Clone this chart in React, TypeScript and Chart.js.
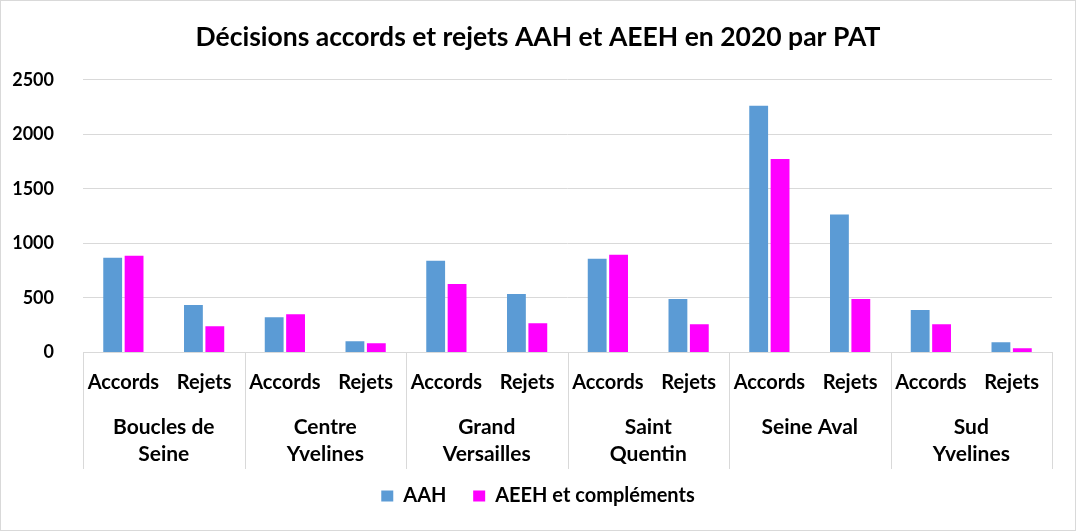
import React, { useEffect, useRef } from "react";
import { Chart, registerables } from "chart.js";

Chart.register(...registerables);

const titleText = "Décisions accords et rejets AAH et AEEH en 2020 par PAT";
const categories = [
  "Accords", "Rejets", "Accords", "Rejets", "Accords", "Rejets",
  "Accords", "Rejets", "Accords", "Rejets", "Accords", "Rejets",
];
const groups: (string | string[])[] = [
  ["Boucles de", "Seine"],
  ["Centre", "Yvelines"],
  ["Grand", "Versailles"],
  ["Saint", "Quentin"],
  ["Seine Aval"],
  ["Sud", "Yvelines"],
];
const aahValues = [868, 434, 323, 102, 840, 536, 859, 489, 2263, 1265, 388, 92];
const aeehValues = [886, 240, 351, 83, 628, 268, 896, 259, 1773, 489, 259, 37];
const seriesNames = ["AAH", "AEEH et compléments"];
const yMax = 2500;
const yStep = 500;

const FONT = "Lato";
const GRID = "#d9d9d9";

const separatorPlugin = {
  id: "groupSeparators",
  afterDraw(chart: any) {
    const x = chart.scales.x;
    const area = chart.chartArea;
    const ctx = chart.ctx;
    const n = categories.length;
    const positions: number[] = [];
    for (let i = 0; i <= n; i += 2) {
      if (i === 0) positions.push(area.left);
      else if (i === n) positions.push(area.right);
      else positions.push((x.getPixelForValue(i - 1) + x.getPixelForValue(i)) / 2);
    }
    const bottom = chart.scales.x2.bottom;
    ctx.save();
    ctx.strokeStyle = GRID;
    ctx.lineWidth = 1;
    for (const p of positions) {
      const px = Math.round(p) + 0.5;
      ctx.beginPath();
      ctx.moveTo(px, area.bottom);
      ctx.lineTo(px, bottom);
      ctx.stroke();
    }
    ctx.restore();
  },
};

export default function App() {
  const ref = useRef<HTMLCanvasElement | null>(null);

  useEffect(() => {
    document.body.style.margin = "0";
    if (!ref.current) return;
    const chart = new Chart(ref.current, {
      type: "bar",
      data: {
        labels: categories,
        datasets: [
          {
            label: seriesNames[0],
            data: aahValues,
            backgroundColor: "#5B9BD5",
            categoryPercentage: 0.53,
            barPercentage: 0.88,
          },
          {
            label: seriesNames[1],
            data: aeehValues,
            backgroundColor: "#FF00FF",
            categoryPercentage: 0.53,
            barPercentage: 0.88,
          },
        ],
      },
      options: {
        animation: false,
        responsive: false,
        maintainAspectRatio: false,
        layout: { padding: { left: 0, right: 0, top: 0, bottom: 14 } },
        plugins: {
          title: {
            display: true,
            text: titleText,
            color: "#000",
            font: { family: FONT, size: 26.5, weight: "bold", lineHeight: 1.2 },
            padding: { top: 21, bottom: 26 },
          },
          legend: {
            position: "bottom",
            labels: {
              color: "#000",
              font: { family: FONT, size: 20, weight: "bold" },
              boxWidth: 12,
              boxHeight: 11,
              padding: 17,
              generateLabels(chart: any) {
                const items = Chart.defaults.plugins.legend.labels.generateLabels(chart);
                return items.map((it: any, i: number) => ({
                  ...it,
                  text: i < items.length - 1 ? it.text + "  " : it.text,
                  strokeStyle: "transparent",
                  lineWidth: 0,
                }));
              },
            },
          },
          tooltip: { enabled: false },
        },
        scales: {
          x: {
            type: "category",
            offset: true,
            grid: { display: false, drawTicks: false },
            border: { display: true, color: GRID },
            ticks: {
              color: "#000",
              font: { family: FONT, size: 20, weight: "bold", lineHeight: 1.2 },
              padding: 18,
              maxRotation: 0,
              autoSkip: false,
            },
          },
          x2: {
            type: "category",
            position: "bottom",
            labels: groups as any,
            offset: true,
            grid: { display: false, drawTicks: false },
            border: { display: false },
            ticks: {
              color: "#000",
              font: { family: FONT, size: 21, weight: "bold", lineHeight: 1.3 },
              padding: 1,
              maxRotation: 0,
              autoSkip: false,
            },
          },
          y: {
            min: 0,
            max: yMax,
            grid: { color: GRID, drawTicks: false },
            border: { display: false },
            ticks: {
              stepSize: yStep,
              color: "#000",
              font: { family: FONT, size: 18, weight: "bold" },
              padding: 29,
              callback: (v: any) => String(v),
            },
            afterFit(scale: any) {
              scale.width = 82;
            },
          },
          yRight: {
            type: "linear",
            position: "right",
            display: true,
            grid: { display: false, drawTicks: false },
            border: { display: false },
            ticks: { display: false },
            afterFit(scale: any) {
              scale.width = 23;
            },
          },
        },
      },
      plugins: [separatorPlugin],
    });
    return () => chart.destroy();
  }, []);

  return (
    <div
      style={{
        position: "absolute",
        left: 0,
        top: 0,
        width: 1076,
        height: 531,
        boxSizing: "border-box",
        border: "1px solid #d9d9d9",
        background: "#fff",
      }}
    >
      <canvas ref={ref} width={1074} height={529} style={{ display: "block" }} />
    </div>
  );
}
